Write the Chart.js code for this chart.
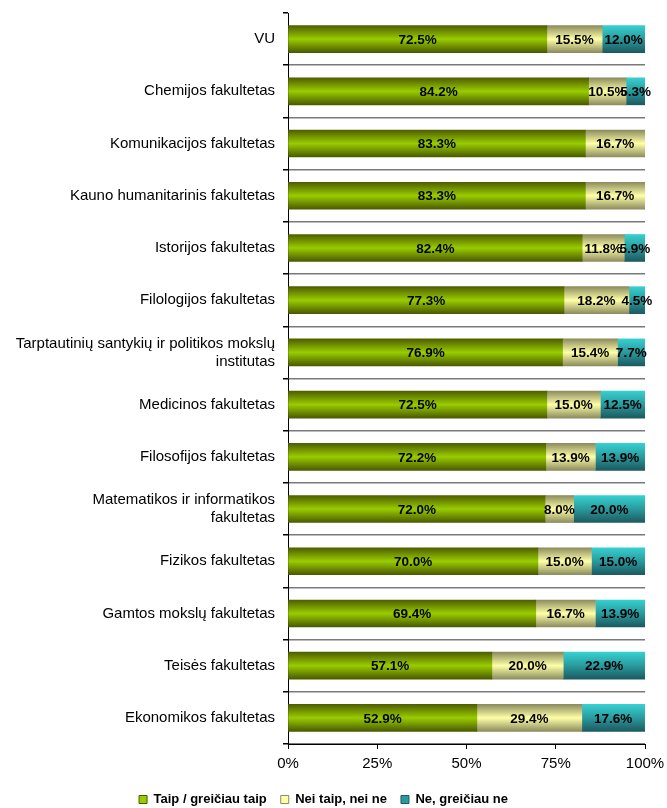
<!DOCTYPE html>
<html>
<head>
<meta charset="utf-8">
<script src="https://cdn.jsdelivr.net/npm/chart.js@4/dist/chart.umd.min.js"></script>
<style>
  html, body { margin: 0; padding: 0; background: #fff; }
  #wrap { width: 667px; height: 808px; }
</style>
</head>
<body>
<div id="wrap"><canvas id="chart"></canvas></div>
<script>
// chart values
const categories = [
    'VU',
    'Chemijos fakultetas',
    'Komunikacijos fakultetas',
    'Kauno humanitarinis fakultetas',
    'Istorijos fakultetas',
    'Filologijos fakultetas',
    ['Tarptautinių santykių ir politikos mokslų', 'institutas'],
    'Medicinos fakultetas',
    'Filosofijos fakultetas',
    ['Matematikos ir informatikos', 'fakultetas'],
    'Fizikos fakultetas',
    'Gamtos mokslų fakultetas',
    'Teisės fakultetas',
    'Ekonomikos fakultetas'
];
const seriesNames = ['Taip / greičiau taip', 'Nei taip, nei ne', 'Ne, greičiau ne'];
const taip = [72.5, 84.2, 83.3, 83.3, 82.4, 77.3, 76.9, 72.5, 72.2, 72.0, 70.0, 69.4, 57.1, 52.9];
const neiTaip = [15.5, 10.5, 16.7, 16.7, 11.8, 18.2, 15.4, 15.0, 13.9, 8.0, 15.0, 16.7, 20.0, 29.4];
const ne = [12.0, 5.3, 0, 0, 5.9, 4.5, 7.7, 12.5, 13.9, 20.0, 15.0, 13.9, 22.9, 17.6];
const xTicks = [0, 25, 50, 75, 100];

const BAR_H = 27;
const FONT = '"Liberation Sans", Arial, sans-serif';

// colour stops for each series (top, middle, bottom)
const stops = [
    ['#4f5e00', '#99cc00', '#4a5a00'],
    ['#8c8c5e', '#ffffa8', '#8c8c5e'],
    ['#36d0d0', '#2a9a9e', '#1b5a60']
];

function barGradient(ctx, series) {
    const chart = ctx.chart;
    const yScale = chart.scales.y;
    if (!yScale || ctx.dataIndex === undefined) return stops[series][1];
    const yc = yScale.getPixelForValue(ctx.dataIndex);
    const g = chart.ctx.createLinearGradient(0, yc - BAR_H / 2, 0, yc + BAR_H / 2);
    g.addColorStop(0, stops[series][0]);
    g.addColorStop(0.5, stops[series][1]);
    g.addColorStop(1, stops[series][2]);
    return g;
}

// draws the percent text in the middle of each segment
const valueLabels = {
    id: 'valueLabels',
    afterDatasetsDraw(chart) {
        const c = chart.ctx;
        c.save();
        c.font = 'bold 13.5px ' + FONT;
        c.fillStyle = '#000';
        c.textAlign = 'center';
        c.textBaseline = 'middle';
        chart.data.datasets.forEach((ds, i) => {
            chart.getDatasetMeta(i).data.forEach((bar, j) => {
                const v = ds.data[j];
                if (!v) return;
                const x = (bar.base + bar.x) / 2;
                c.fillText(v.toFixed(1) + '%', x, bar.y + 1);
            });
        });
        c.restore();
    }
};

new Chart(document.getElementById('chart'), {
    type: 'bar',
    data: {
        labels: categories,
        datasets: [
            { label: seriesNames[0], data: taip, backgroundColor: ctx => barGradient(ctx, 0) },
            { label: seriesNames[1], data: neiTaip, backgroundColor: ctx => barGradient(ctx, 1) },
            { label: seriesNames[2], data: ne, backgroundColor: ctx => barGradient(ctx, 2) }
        ]
    },
    options: {
        indexAxis: 'y',
        responsive: true,
        maintainAspectRatio: false,
        animation: false,
        barThickness: BAR_H,
        layout: { padding: { top: 13, right: 22, left: 2, bottom: -8 } },
        scales: {
            x: {
                stacked: true,
                min: 0,
                max: 100,
                afterBuildTicks: axis => { axis.ticks = xTicks.map(v => ({ value: v })); },
                afterFit: axis => { axis.paddingLeft = 0; axis.paddingRight = 0; },
                ticks: {
                    callback: v => v + '%',
                    color: '#000',
                    font: { family: FONT, size: 15 },
                    maxRotation: 0,
                    padding: 6
                },
                grid: { drawOnChartArea: false, color: '#000', tickLength: 5 },
                border: { color: '#000' }
            },
            y: {
                stacked: true,
                afterFit: axis => {
                    axis.width = 286;
                    axis.paddingTop = 0;
                    axis.paddingBottom = 0;
                },
                ticks: {
                    color: '#000',
                    font: { family: FONT, size: 15 },
                    padding: 8
                },
                grid: {
                    offset: true,
                    color: ctx => ctx.index === 0 ? 'rgba(0,0,0,0)' : '#7a7a7a',
                    lineWidth: 1.5,
                    tickColor: '#000',
                    tickLength: 5
                },
                border: { color: '#000' }
            }
        },
        plugins: {
            legend: {
                position: 'bottom',
                labels: {
                    boxWidth: 8,
                    boxHeight: 8,
                    padding: 14,
                    color: '#000',
                    font: { family: FONT, size: 13, weight: 'bold' },
                    generateLabels: chart => chart.data.datasets.map((ds, i) => ({
                        text: ds.label,
                        fillStyle: stops[i][1],
                        strokeStyle: stops[i][2],
                        lineWidth: 1,
                        datasetIndex: i
                    }))
                }
            },
            tooltip: { enabled: false }
        }
    },
    plugins: [valueLabels]
});
</script>
</body>
</html>
